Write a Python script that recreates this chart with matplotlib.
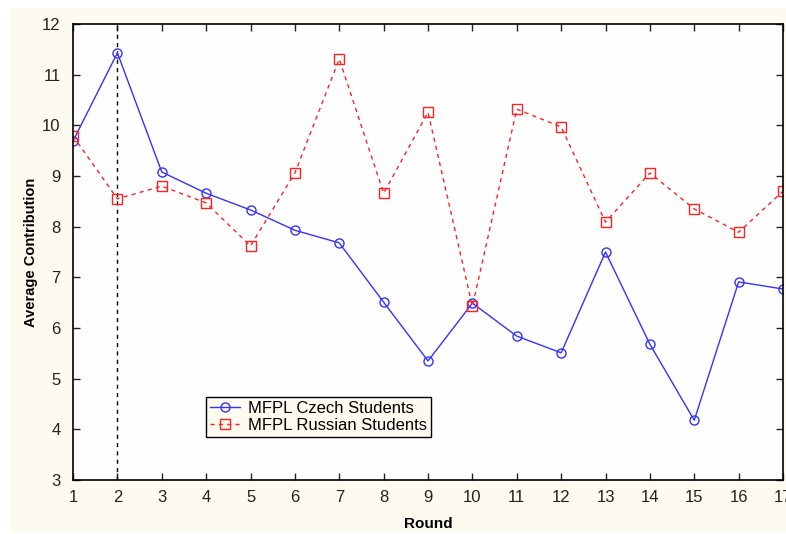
import matplotlib
matplotlib.use("Agg")
import matplotlib.pyplot as plt
from matplotlib.patches import Rectangle

rounds = list(range(1, 18))
czech = [9.69, 11.43, 9.08, 8.66, 8.33, 7.93, 7.68, 6.51, 5.35, 6.49,
         5.84, 5.51, 7.50, 5.68, 4.18, 6.91, 6.77]
russian = [9.79, 8.55, 8.80, 8.47, 7.62, 9.06, 11.31, 8.66, 10.26, 6.43,
           10.32, 9.97, 8.09, 9.06, 8.35, 7.89, 8.70]
y_ticks = list(range(3, 13))

plt.rcParams['font.family'] = ['Liberation Sans', 'DejaVu Sans']

fig = plt.figure(figsize=(7.86, 5.34), dpi=100)
# cream panel behind the plot
fig.add_artist(Rectangle((0.0127, 0.004), 0.99, 0.981, transform=fig.transFigure,
                         facecolor="#FDFAEF", edgecolor="none", zorder=-10))
ax = fig.add_axes([0.0929, 0.1011, 0.9033, 0.8539])
ax.set_facecolor("#FEFEFE")

ax.axvline(2, color="black", linestyle=(0, (3, 3)), linewidth=1)
ax.plot(rounds, czech, color="#3333FF", linewidth=1, marker="o", markersize=6.5,
        markerfacecolor="none", markeredgecolor="#3333FF", label="MFPL Czech Students")
ax.plot(rounds, russian, color="#FF2222", linewidth=1, linestyle=(0, (3, 3)), marker="s",
        markersize=6.5, markerfacecolor="none", markeredgecolor="#FF2222",
        label="MFPL Russian Students")

ax.set_xlim(1, 17)
ax.set_ylim(3, 12)
ax.set_xticks(rounds)
ax.set_yticks(y_ticks)
ax.tick_params(direction="in", length=5, width=1, top=True, right=True,
               labelsize=12, colors="#222222", pad=7)
ax.tick_params(axis="y", pad=9)
for s in ax.spines.values():
    s.set_linewidth(1.2)

ax.set_xlabel("Round", fontsize=11, fontweight="bold", labelpad=9)
ax.set_ylabel("Average Contribution", fontsize=10.5, fontweight="bold", labelpad=3)

leg = ax.legend(loc="lower left", bbox_to_anchor=(0.187, 0.094), frameon=True,
                fancybox=False, framealpha=1, edgecolor="black", facecolor="#FDFAEF",
                borderpad=0.25, borderaxespad=0, labelspacing=0.1, handlelength=1.8,
                handletextpad=0.5, fontsize=12)
leg.get_frame().set_linewidth(1)

fig.savefig("out.png", dpi=100)
